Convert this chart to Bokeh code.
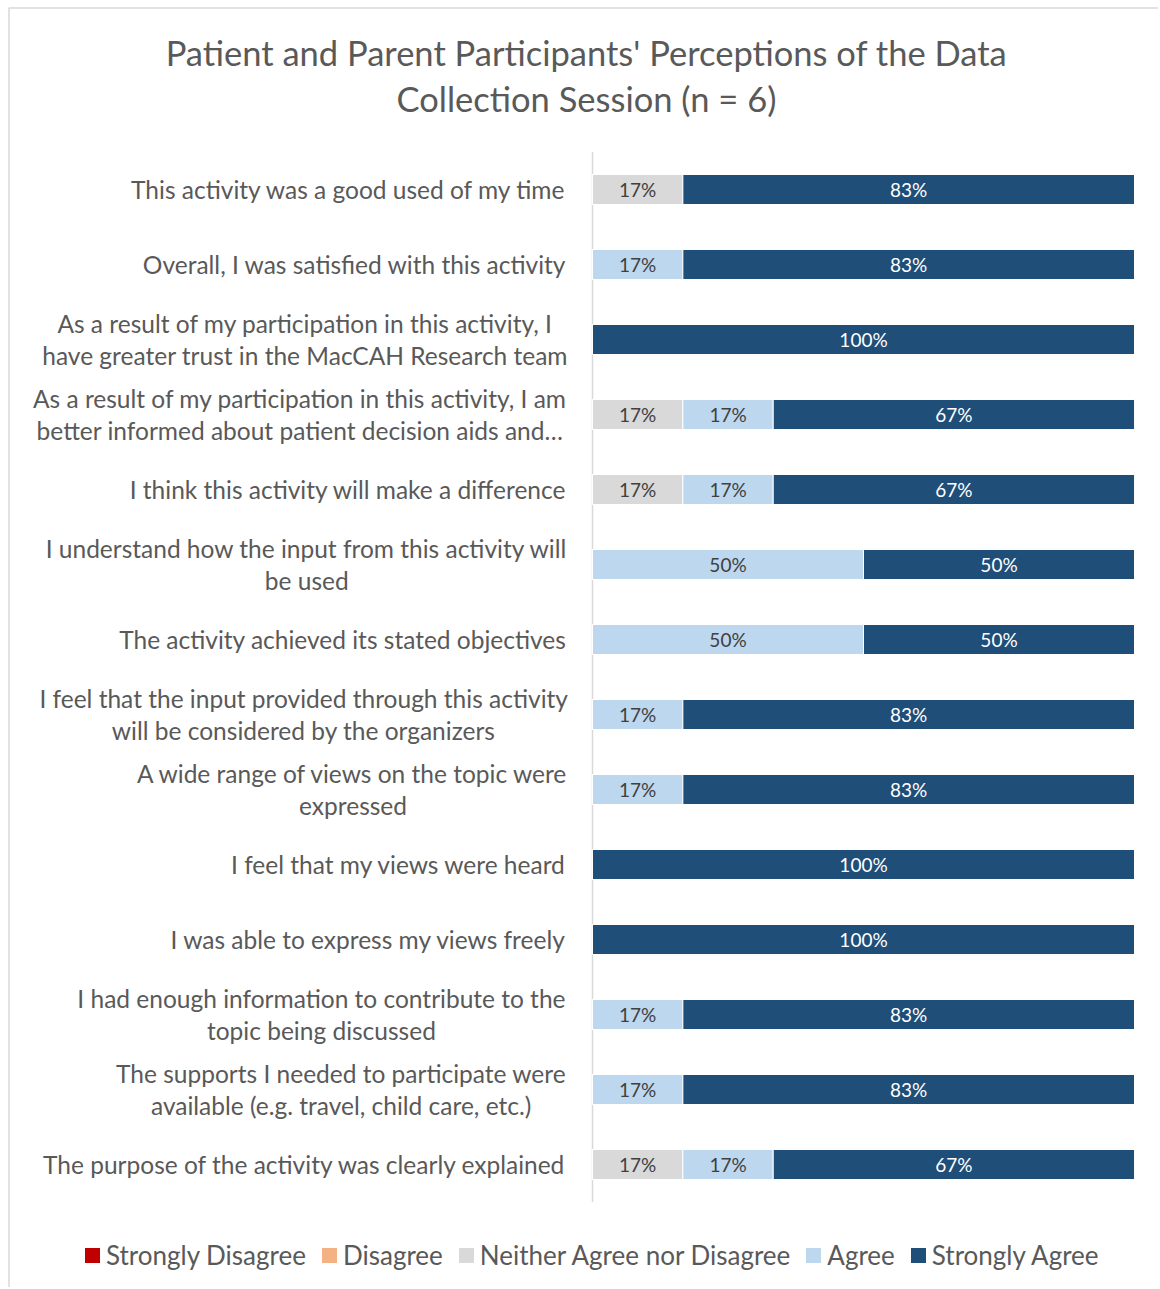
from bokeh.plotting import figure
from bokeh.models import Range1d, Legend, LegendItem, ColumnDataSource
from bokeh.embed import file_html
from bokeh.resources import INLINE
from bokeh.core.properties import value

statements = [
    "This activity was a good used of my time",
    "Overall, I was satisfied with this activity",
    "As a result of my participation in this activity, I\nhave greater trust in the MacCAH Research team",
    "As a result of my participation in this activity, I am\nbetter informed about patient decision aids and\u2026",
    "I think this activity will make a difference",
    "I understand how the input from this activity will\nbe used",
    "The activity achieved its stated objectives",
    "I feel that the input provided through this activity\nwill be considered by the organizers",
    "A wide range of views on the topic were\nexpressed",
    "I feel that my views were heard",
    "I was able to express my views freely",
    "I had enough information to contribute to the\ntopic being discussed",
    "The supports I needed to participate were\navailable (e.g. travel, child care, etc.)",
    "The purpose of the activity was clearly explained",
]
categories = ["Strongly Disagree", "Disagree", "Neither Agree nor Disagree", "Agree", "Strongly Agree"]
strongly_disagree = [0, 0, 0, 0, 0, 0, 0, 0, 0, 0, 0, 0, 0, 0]
disagree = [0, 0, 0, 0, 0, 0, 0, 0, 0, 0, 0, 0, 0, 0]
neither = [16.67, 0, 0, 16.67, 16.67, 0, 0, 0, 0, 0, 0, 0, 0, 16.67]
agree = [0, 16.67, 0, 16.67, 16.67, 50, 50, 16.67, 16.67, 0, 0, 16.67, 16.67, 16.67]
strongly_agree = [83.33, 83.33, 100, 66.67, 66.67, 50, 50, 83.33, 83.33, 100, 100, 83.33, 83.33, 66.67]
colors = ["#C00000", "#F4B183", "#D9D9D9", "#BDD7EE", "#1F4E79"]
label_colors = ["#FFFFFF", "#404040", "#404040", "#404040", "#FFFFFF"]
title_text = "Patient and Parent Participants' Perceptions of the Data\nCollection Session (n = 6)"

FONT = "Lato"
TEXT_GREY = "#595959"
LINE_GREY = "#D9D9D9"

W, H = 1158, 1287
n = len(statements)

# layout: page pixels of the bar area
BAR_LEFT, BAR_RIGHT = 592, 1134      # 0% .. 100%
ROW0, ROW_STEP = 189, 75             # centre of first row, row spacing
PX_PER_PCT = (BAR_RIGHT - BAR_LEFT) / 100.0

def px2x(px):
    return (px - BAR_LEFT) / PX_PER_PCT

def py2y(py):
    return (py - ROW0) / ROW_STEP

# approximate glyph advance widths (em) used to centre wrapped labels
_W = {' ': .26, 'a': .556, 'b': .613, 'c': .48, 'd': .613, 'e': .561, 'f': .336, 'g': .548,
      'h': .613, 'i': .258, 'j': .258, 'k': .525, 'l': .258, 'm': .932, 'n': .613, 'o': .6,
      'p': .613, 'q': .613, 'r': .408, 's': .477, 't': .352, 'u': .613, 'v': .5, 'w': .775,
      'x': .522, 'y': .5, 'z': .465, 'A': .633, 'B': .647, 'C': .632, 'D': .729, 'E': .556,
      'F': .516, 'G': .728, 'H': .738, 'I': .279, 'J': .267, 'K': .614, 'L': .519, 'M': .906,
      'N': .754, 'O': .779, 'P': .602, 'Q': .779, 'R': .618, 'S': .549, 'T': .556, 'U': .729,
      'V': .582, 'W': .918, 'X': .575, 'Y': .558, 'Z': .559, ',': .25, '.': .266, '(': .3,
      ')': .3, '\u2026': .8, "'": .22, '-': .32}
LATO_FACTOR = 0.9306

def text_width(s, size):
    return sum(_W.get(ch, 0.55) for ch in s) * size * LATO_FACTOR

ys = list(range(n))
series = [strongly_disagree, disagree, neither, agree, strongly_agree]
data = {"y": ys}
for c, s in zip(categories, series):
    data[c] = s
source = ColumnDataSource(data)

p = figure(width=W, height=H,
           x_range=Range1d(px2x(0), px2x(W)), y_range=Range1d(py2y(H), py2y(0)),
           output_backend="svg", toolbar_location=None,
           min_border=0, min_border_left=0, min_border_right=0, min_border_top=0, min_border_bottom=0)
p.outline_line_color = None
p.xgrid.visible = False
p.ygrid.visible = False
p.xaxis.visible = False
p.yaxis.visible = False

# chart border (top + left) and the category axis line
p.segment(x0=[px2x(8), px2x(8.5)], y0=[py2y(7.5), py2y(7.5)],
          x1=[px2x(W), px2x(8.5)], y1=[py2y(7.5), py2y(H)],
          line_color=LINE_GREY, line_width=1.5)
p.segment(x0=[0], y0=[-0.5], x1=[0], y1=[n - 0.5], line_color=LINE_GREY, line_width=1.5)

renderers = p.hbar_stack(categories, y="y", height=0.4, color=colors, source=source,
                         line_color="white", line_width=1)

# data labels
lx, ly, lt, lc = [], [], [], []
for i in range(n):
    left = 0.0
    for s, col in zip(series, label_colors):
        v = s[i]
        if v > 0:
            lx.append(left + v / 2)
            ly.append(i)
            lt.append(f"{round(v)}%")
            lc.append(col)
        left += v
p.text(x=lx, y=ly, text=lt, text_color=lc, text_align="center", text_baseline="middle",
       text_font=value(FONT), text_font_size="19px")

# category labels: block right-aligned at 566px, lines centred
LABEL_SIZE = 24.5
LABEL_RIGHT = 566
sx1, sy1, st1 = [], [], []
sx2, sy2, st2 = [], [], []
for i, s in enumerate(statements):
    lines = s.split("\n")
    if len(lines) == 1:
        sx1.append(px2x(LABEL_RIGHT)); sy1.append(i); st1.append(s)
    else:
        wmax = max(text_width(l, LABEL_SIZE) for l in lines)
        sx2.append(px2x(LABEL_RIGHT - 3 - wmax / 2)); sy2.append(i); st2.append(s)
p.text(x=sx1, y=sy1, text=st1, text_align="right", text_baseline="middle",
       text_font=value(FONT), text_font_size=f"{LABEL_SIZE}px", text_color=TEXT_GREY)
p.text(x=sx2, y=sy2, text=st2, text_align="center", text_baseline="middle",
       text_font=value(FONT), text_font_size=f"{LABEL_SIZE}px", text_color=TEXT_GREY,
       text_line_height=1.095)

# title
p.text(x=[px2x(586)], y=[py2y(75)], text=[title_text], text_align="center", text_baseline="middle",
       text_font=value(FONT), text_font_size="34.5px", text_color=TEXT_GREY, text_line_height=1.1)

legend = Legend(items=[LegendItem(label=c, renderers=[r]) for c, r in zip(categories, renderers)],
                orientation="horizontal", location=(82, 16),
                label_text_font=FONT, label_text_font_size="26px", label_text_color=TEXT_GREY,
                glyph_width=20, glyph_height=20, label_standoff=4, spacing=13,
                border_line_color=None, background_fill_alpha=0, padding=0, margin=0)
p.add_layout(legend, "center")

open("out.html", "w").write(file_html(p, INLINE))
